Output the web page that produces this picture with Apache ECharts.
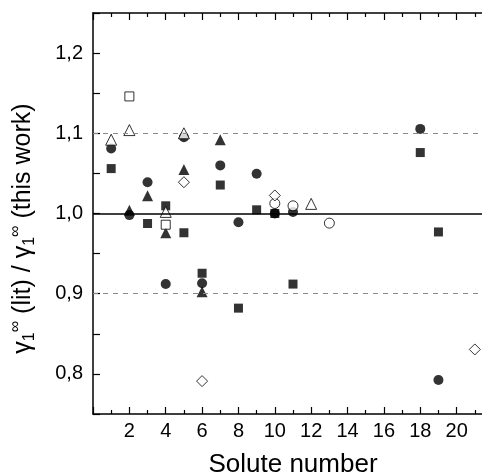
<!DOCTYPE html>
<html>
<head>
<meta charset="utf-8">
<script src="https://cdn.jsdelivr.net/npm/echarts@6/dist/echarts.min.js"></script>
<style>
  html, body {margin: 0; padding: 0; background: #fff;}
  #main {width: 482px; height: 474px;}
</style>
</head>
<body>
<div id="main"></div>
<script>
// [solute number, gamma ratio]
const filledSquare = [[1, 1.056], [3, 0.9875], [4, 1.0096], [5, 0.976], [6, 0.9255], [7, 1.0355], [8, 0.882], [9, 1.0046], [10, 1.0], [11, 0.912], [18, 1.076], [19, 0.977]];
const filledCircle = [[1, 1.081], [2, 0.998], [3, 1.039], [4, 0.912], [5, 1.095], [6, 0.913], [7, 1.06], [8, 0.989], [9, 1.0496], [10, 1.0], [11, 1.002], [18, 1.1055], [19, 0.7925]];
const filledTriangle = [[2, 1.004], [3, 1.022], [4, 0.976], [5, 1.055], [6, 0.9025], [7, 1.092]];
const openSquare = [[2, 1.146], [4, 0.986]];
const openTriangle = [[1, 1.092], [2, 1.104], [4, 1.002], [5, 1.1], [12, 1.012]];
const openCircle = [[10, 1.0125], [11, 1.0096], [13, 0.988]];
const openDiamond = [[5, 1.039], [6, 0.791], [10, 1.0225], [21, 0.8305]];

const refLines = [1.0, 0.9, 1.1];

const chart = echarts.init(document.getElementById('main'));

function filled(name, symbol, data, size) {
  return {
    name: name, type: 'scatter', data: data, symbol: symbol, symbolSize: size,
    itemStyle: {color: '#000'}, silent: true, z: 3
  };
}
function open(name, symbol, data, size) {
  return {
    name: name, type: 'scatter', data: data, symbol: symbol, symbolSize: size,
    itemStyle: {color: '#fff', borderColor: '#000', borderWidth: 1}, silent: true, z: 4
  };
}

const font = 'Liberation Sans, Arial, sans-serif';

const option = {
  animation: false,
  backgroundColor: '#fff',
  // plot runs past the right edge of the picture (x max 22 is cropped off)
  grid: {left: 93, width: 400, top: 13, bottom: 60, outerBoundsMode: 'none', containLabel: false},
  xAxis: [{
    type: 'value', min: 0, max: 22, interval: 2,
    name: 'Solute number', nameLocation: 'middle', nameGap: 38,
    nameTextStyle: {fontFamily: font, fontSize: 26, color: '#000'},
    axisLine: {show: true, onZero: false, lineStyle: {color: '#000', width: 1.5}},
    axisTick: {show: true, inside: true, length: 7, lineStyle: {color: '#000', width: 1.2}},
    minorTick: {show: true, splitNumber: 2, length: 4, lineStyle: {color: '#000', width: 1.2}},
    axisLabel: {
      fontFamily: font, fontSize: 20, color: '#000', margin: 7,
      formatter: v => (v === 0 || v > 21 ? '' : String(v))
    },
    splitLine: {show: false}
  }, {
    type: 'value', min: 0, max: 22, interval: 2, position: 'top',
    axisLine: {show: true, onZero: false, lineStyle: {color: '#000', width: 1.5}},
    axisTick: {show: true, inside: true, length: 7, lineStyle: {color: '#000', width: 1.2}},
    minorTick: {show: true, splitNumber: 2, length: 4, lineStyle: {color: '#000', width: 1.2}},
    axisLabel: {show: false},
    splitLine: {show: false}
  }],
  yAxis: {
    type: 'value', min: 0.75, max: 1.25, interval: 0.05,
    name: '{g|γ}{s|1}{p|∞}{t| (lit) / }{g|γ}{s|1}{p|∞}{t| (this work)}',
    nameLocation: 'middle', nameGap: 55,
    nameTextStyle: {
      fontFamily: font, color: '#000',
      padding: [0, 30, 0, 0],
      rich: {
        g: {fontFamily: font, fontSize: 25, color: '#000', lineHeight: 30, verticalAlign: 'middle'},
        t: {fontFamily: font, fontSize: 25, color: '#000', lineHeight: 30, verticalAlign: 'middle'},
        s: {fontFamily: font, fontSize: 16, color: '#000', lineHeight: 30, verticalAlign: 'bottom'},
        p: {fontFamily: font, fontSize: 16, color: '#000', lineHeight: 30, verticalAlign: 'top'}
      }
    },
    axisLine: {show: true, onZero: false, lineStyle: {color: '#000', width: 1.5}},
    axisTick: {show: true, inside: true, length: 7, lineStyle: {color: '#000', width: 1.2}},
    axisLabel: {
      fontFamily: font, fontSize: 20, color: '#000', margin: 10,
      formatter: v => {
        const k = v * 10;
        if (Math.abs(k - Math.round(k)) > 1e-6 || v < 0.79 || v > 1.21) return '';
        return v.toFixed(1).replace('.', ',');
      }
    },
    splitLine: {show: false}
  },
  series: [
    {
      type: 'scatter', data: [], silent: true,
      markLine: {
        silent: true, symbol: 'none', label: {show: false}, animation: false,
        data: refLines.map(v => ({
          yAxis: v,
          lineStyle: v === 1.0
            ? {color: '#000', width: 1.5, type: 'solid'}
            : {color: '#8a8a8a', width: 1, type: [5, 5]}
        }))
      }
    },
    filled('filled square', 'rect', filledSquare, 9),
    filled('filled circle', 'circle', filledCircle, 10),
    filled('filled triangle', 'triangle', filledTriangle, 11),
    open('open square', 'rect', openSquare, 9),
    open('open triangle', 'triangle', openTriangle, 11),
    open('open circle', 'circle', openCircle, 10),
    open('open diamond', 'diamond', openDiamond, 11)
  ]
};

chart.setOption(option);
</script>
</body>
</html>
